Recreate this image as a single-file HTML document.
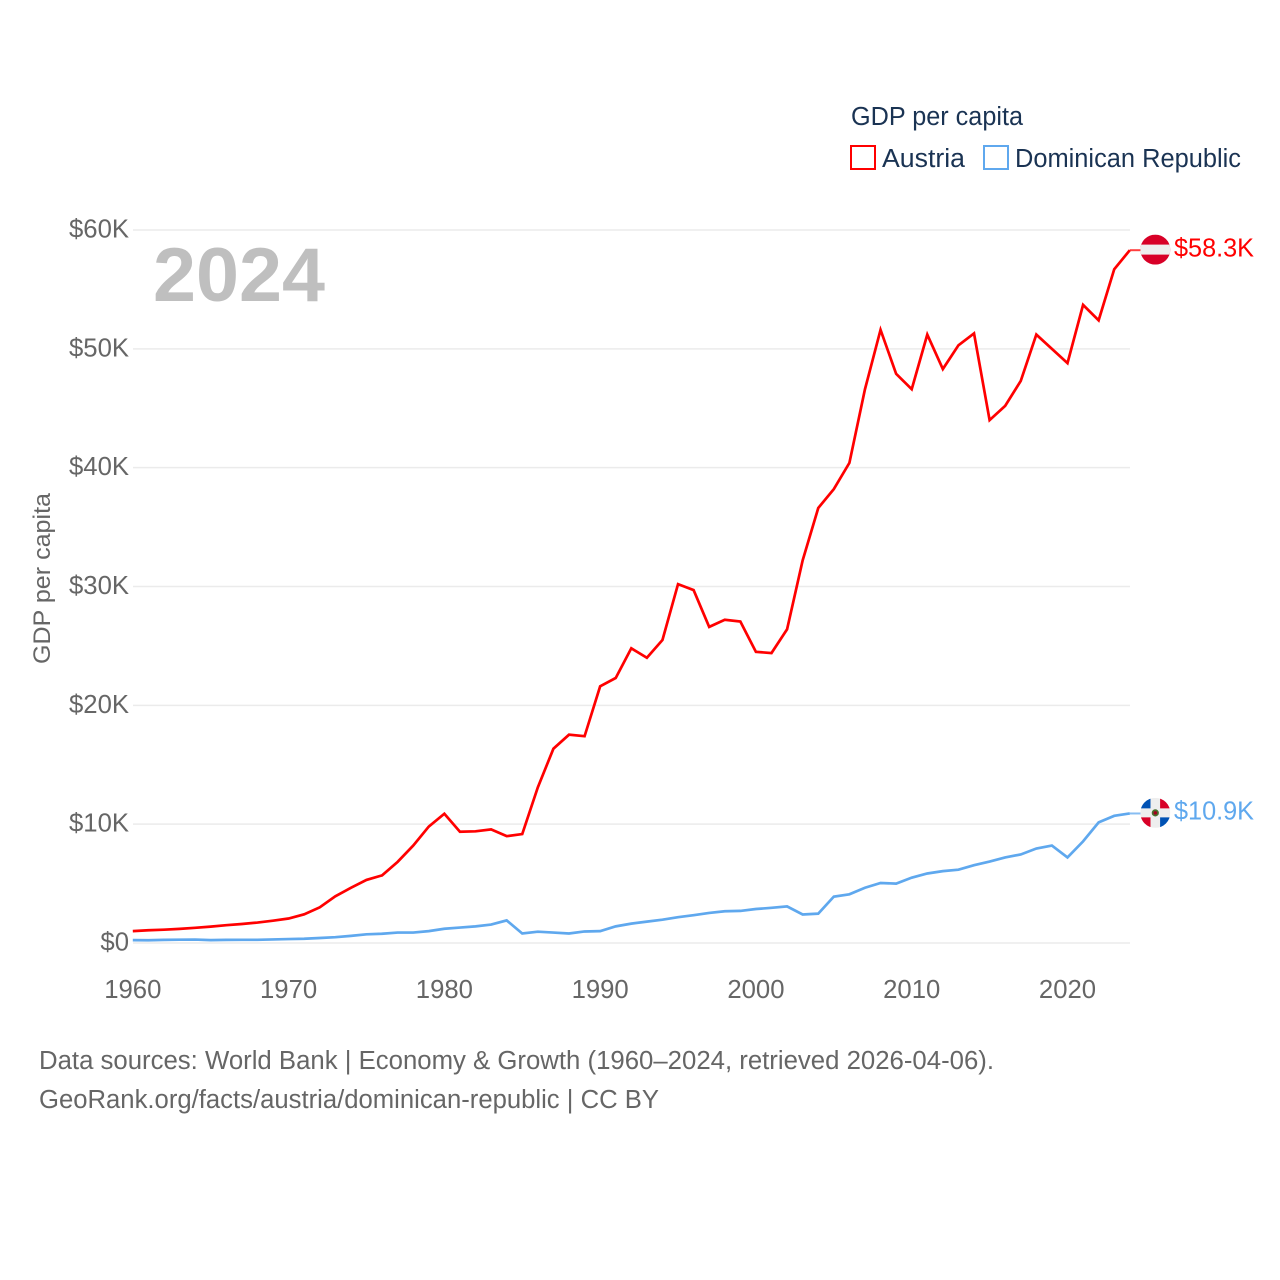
<!DOCTYPE html>
<html lang="en">
<head>
<meta charset="utf-8">
<title>GDP per capita: Austria and Dominican Republic</title>
<style>
html,body{margin:0;padding:0;background:#fff;}
svg{display:block;font-family:"Liberation Sans",sans-serif;}
</style>
</head>
<body>
<svg id="chart" xmlns="http://www.w3.org/2000/svg" width="1280" height="1280" viewBox="0 0 1280 1280">
  <defs>
    <clipPath id="flag-clip"><circle cx="0" cy="0" r="15"></circle></clipPath>
  </defs>
  <rect x="0" y="0" width="1280" height="1280" fill="#ffffff"></rect>
  <g id="grid"></g>
  <g id="yticks"></g>
  <g id="xticks"></g>
  <text x="153" y="301" font-size="76" font-weight="700" fill="#bfbfbf" textLength="172" lengthAdjust="spacingAndGlyphs">2024</text>
  <text transform="translate(50,664) rotate(-90)" font-size="24.5" fill="#666666" textLength="171" lengthAdjust="spacingAndGlyphs">GDP per capita</text>
  <g id="series"></g>
  <g id="end-markers"></g>
  <g>
    <text x="851" y="125" font-size="25.5" fill="#1a3353" textLength="172" lengthAdjust="spacingAndGlyphs">GDP per capita</text>
    <rect x="851" y="146" width="24" height="23" fill="none" stroke="#ff0000" stroke-width="2"></rect>
    <text x="882" y="167" font-size="25.5" fill="#1a3353" textLength="83" lengthAdjust="spacingAndGlyphs">Austria</text>
    <rect x="984" y="146" width="24" height="23" fill="none" stroke="#5fa8ee" stroke-width="2"></rect>
    <text x="1015" y="167" font-size="25.5" fill="#1a3353" textLength="226" lengthAdjust="spacingAndGlyphs">Dominican Republic</text>
  </g>
  <g>
    <text x="39" y="1069" font-size="25.5" fill="#666666" textLength="955" lengthAdjust="spacingAndGlyphs">Data sources: World Bank | Economy &amp; Growth (1960–2024, retrieved 2026-04-06).</text>
    <text x="39" y="1108" font-size="25.5" fill="#666666" textLength="620" lengthAdjust="spacingAndGlyphs">GeoRank.org/facts/austria/dominican-republic | CC BY</text>
  </g>
</svg>
<script>
const startYear = 1960;
const austriaValues = [1.00,1.07,1.12,1.19,1.28,1.38,1.50,1.60,1.72,1.88,2.06,2.41,3.00,3.93,4.64,5.31,5.69,6.83,8.20,9.80,10.88,9.36,9.40,9.56,8.99,9.17,13.1,16.35,17.53,17.40,21.6,22.3,24.8,24.0,25.5,30.2,29.7,26.6,27.2,27.05,24.5,24.4,26.4,32.2,36.6,38.2,40.4,46.6,51.6,47.9,46.6,51.2,48.3,50.3,51.3,44.0,45.2,47.3,51.2,50.0,48.8,53.7,52.4,56.7,58.3];
const dominicanValues = [0.24,0.23,0.26,0.28,0.29,0.24,0.26,0.27,0.27,0.30,0.33,0.36,0.42,0.49,0.60,0.73,0.78,0.88,0.88,1.00,1.20,1.30,1.40,1.55,1.90,0.80,0.95,0.88,0.80,0.97,1.00,1.40,1.63,1.80,1.96,2.17,2.34,2.53,2.67,2.70,2.86,2.96,3.08,2.40,2.47,3.90,4.10,4.65,5.05,5.00,5.50,5.85,6.05,6.17,6.55,6.85,7.20,7.45,7.95,8.20,7.20,8.55,10.15,10.70,10.90];
const yTickValues = [0,10,20,30,40,50,60];
const xTickValues = [1960,1970,1980,1990,2000,2010,2020];

const SVG_NS = 'http://www.w3.org/2000/svg';
function xScale(year) { return 132.8 + (year - 1960) * (1129.8 - 132.8) / 64; }
function yScale(value) { return 943 - value * (943 - 230) / 60; }
function make(tag, attrs, parent) {
  const el = document.createElementNS(SVG_NS, tag);
  for (const key in attrs) el.setAttribute(key, attrs[key]);
  parent.appendChild(el);
  return el;
}
function linePath(values) {
  return values.map(function (v, i) {
    return (i ? 'L' : 'M') + xScale(startYear + i).toFixed(2) + ' ' + yScale(v).toFixed(2);
  }).join(' ');
}

const gridGroup = document.getElementById('grid');
const yTickGroup = document.getElementById('yticks');
const xTickGroup = document.getElementById('xticks');
const seriesGroup = document.getElementById('series');
const markerGroup = document.getElementById('end-markers');

yTickValues.forEach(function (tick) {
  const gridline = make('line', {x1: 133, x2: 1130, y1: yScale(tick), y2: yScale(tick), stroke: '#ebebeb', 'stroke-width': 1.5}, gridGroup);
  
  
  const label = make('text', {x: 129, y: yScale(tick) + 7.5, 'text-anchor': 'end', 'font-size': 25.7, fill: '#666666'}, yTickGroup);
  label.textContent = tick === 0 ? '$0' : '$' + tick + 'K';
  
  
});

xTickValues.forEach(function (tick) {
  const label = make('text', {x: xScale(tick), y: 998, 'text-anchor': 'middle', 'font-size': 25.7, fill: '#666666'}, xTickGroup);
  label.textContent = String(tick);
  
  
});

function drawSeries(values, color, key) {
  const path = make('path', {d: linePath(values), fill: 'none', stroke: color, 'stroke-width': 2.7, 'stroke-linejoin': 'miter'}, seriesGroup);
  
  
  const last = values[values.length - 1];
  const y = yScale(last);
  const connector = make('line', {x1: 1129.8, x2: 1141, y1: y, y2: y, stroke: color, 'stroke-width': 2, opacity: 0.75}, markerGroup);
  
  
  const label = make('text', {x: 1174, y: y + 6.2, 'font-size': 25.5, fill: color, textLength: 80, lengthAdjust: 'spacingAndGlyphs'}, markerGroup);
  label.textContent = '$' + last.toFixed(1) + 'K';
  
  
  const flag = make('g', {transform: 'translate(1155.3,' + (y - 0.6) + ')', 'clip-path': 'url(#flag-clip)'}, markerGroup);
  
  
  return flag;
}

const austriaFlag = drawSeries(austriaValues, '#ff0000', 'austria');
make('rect', {x: -15, y: -15, width: 30, height: 30, fill: '#d80027'}, austriaFlag);
make('rect', {x: -15, y: -5, width: 30, height: 10, fill: '#eeeeee'}, austriaFlag);

const dominicanFlag = drawSeries(dominicanValues, '#5fa8ee', 'dominican-republic');
make('rect', {x: -15, y: -15, width: 30, height: 30, fill: '#eeeeee'}, dominicanFlag);
make('rect', {x: -15, y: -15, width: 10.2, height: 10.5, fill: '#0052b4'}, dominicanFlag);
make('rect', {x: 4.8, y: -15, width: 10.2, height: 10.5, fill: '#d80027'}, dominicanFlag);
make('rect', {x: -15, y: 4.5, width: 10.2, height: 10.5, fill: '#d80027'}, dominicanFlag);
make('rect', {x: 4.8, y: 4.5, width: 10.2, height: 10.5, fill: '#0052b4'}, dominicanFlag);
make('circle', {cx: 0, cy: 0, r: 3.6, fill: '#496e2d'}, dominicanFlag);
make('circle', {cx: 0, cy: 0, r: 1.8, fill: '#a2001d'}, dominicanFlag);
</script>
</body>
</html>
